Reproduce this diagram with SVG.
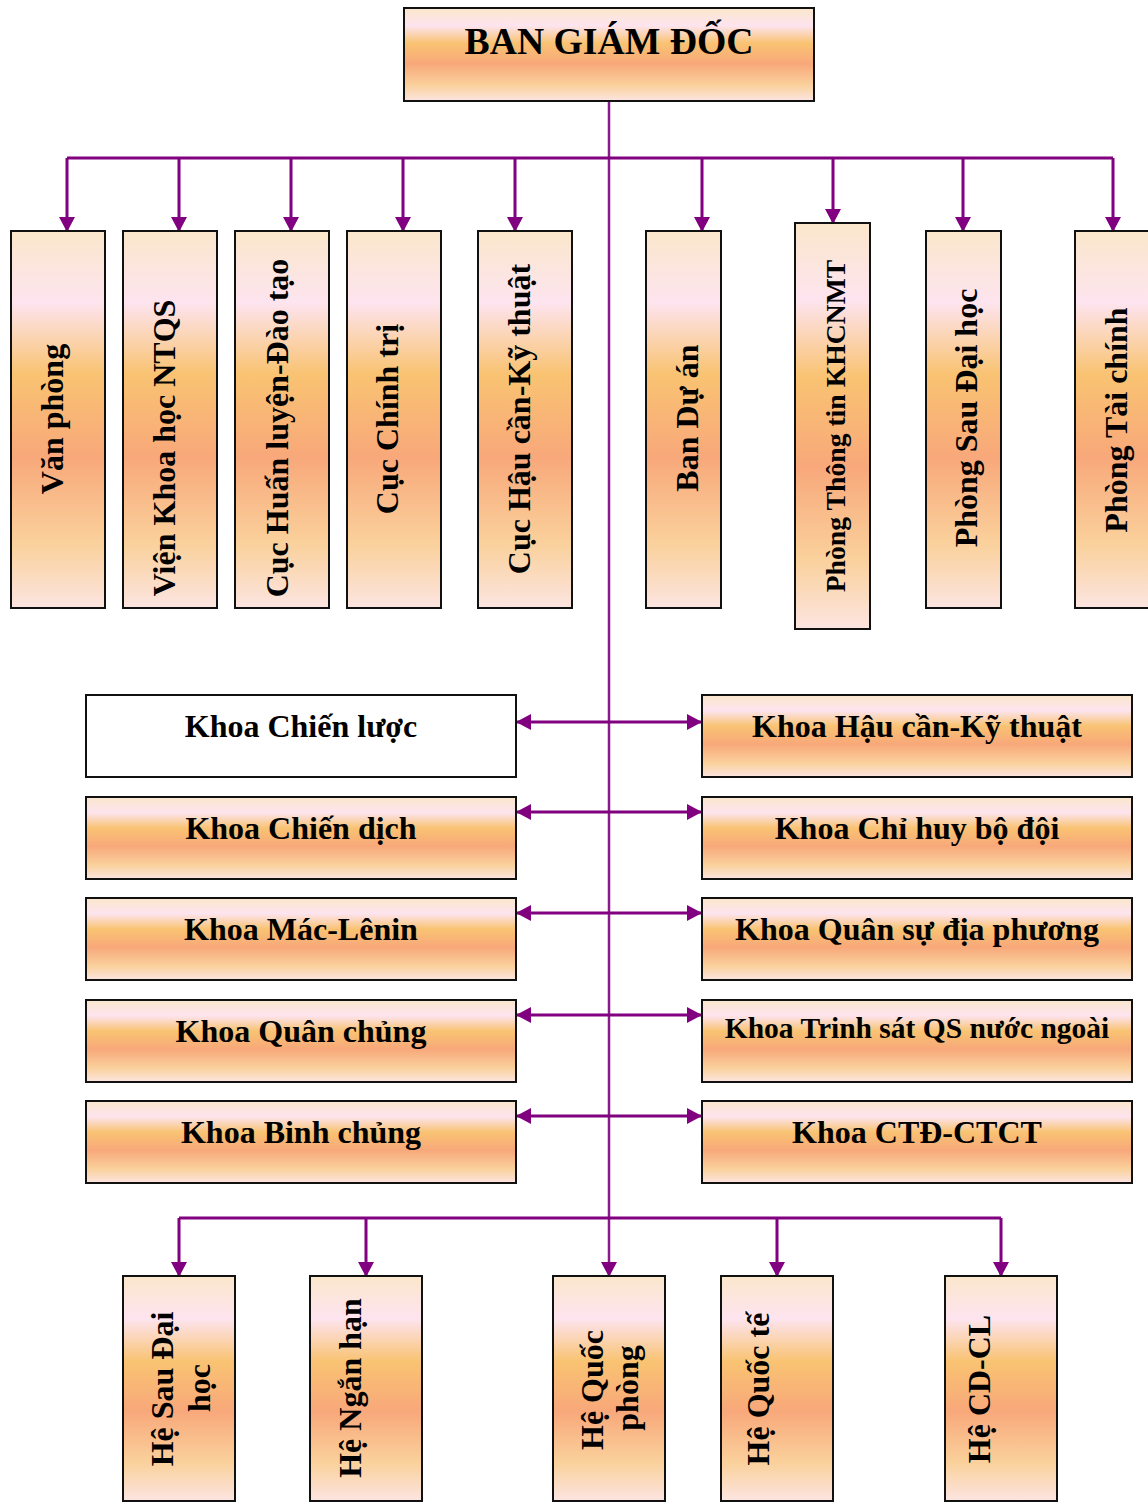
<svg xmlns="http://www.w3.org/2000/svg" width="1148" height="1503" viewBox="0 0 1148 1503">
  <defs>
    <!-- warm sunset fill used by almost every box -->
    <linearGradient id="sunset" x1="0" y1="0" x2="0" y2="1">
      <stop offset="0" stop-color="#FAE7CB"/>
      <stop offset="0.19" stop-color="#FDE4EF"/>
      <stop offset="0.38" stop-color="#F9C372"/>
      <stop offset="0.6" stop-color="#F8A87A"/>
      <stop offset="0.83" stop-color="#FAD19C"/>
      <stop offset="1" stop-color="#FCE5E1"/>
    </linearGradient>
    <marker id="arrow" viewBox="0 0 15 16" refX="14" refY="8" markerWidth="15" markerHeight="16" markerUnits="userSpaceOnUse" orient="auto-start-reverse">
      <path d="M0,0 L15,8 L0,16 z" fill="#800080"/>
    </marker>
    <style>
      .box { fill: url(#sunset); stroke: #111; stroke-width: 2; }
      .plain { fill: #fff; stroke: #111; stroke-width: 2; }
      .lbl { font-family: "Liberation Serif", "Times New Roman", serif; font-weight: bold; fill: #000; text-anchor: middle; }
      .v { font-size: 32px; }
      .h { font-size: 32px; }
      .link { fill: none; stroke: #800080; stroke-width: 3; }
      .trunk { fill: none; stroke: #8a1a8a; stroke-width: 2.5; }
    </style>
  </defs>

  <!-- connectors -->
  <g id="connectors">
    <path class="trunk" d="M609,101 V1276" marker-end="url(#arrow)"/>
    <path class="link" d="M67,158 H1113"/>
    <path class="link" d="M67,158 V231" marker-end="url(#arrow)"/>
    <path class="link" d="M179,158 V231" marker-end="url(#arrow)"/>
    <path class="link" d="M291,158 V231" marker-end="url(#arrow)"/>
    <path class="link" d="M403,158 V231" marker-end="url(#arrow)"/>
    <path class="link" d="M515,158 V231" marker-end="url(#arrow)"/>
    <path class="link" d="M702,158 V231" marker-end="url(#arrow)"/>
    <path class="link" d="M833,158 V223" marker-end="url(#arrow)"/>
    <path class="link" d="M963,158 V231" marker-end="url(#arrow)"/>
    <path class="link" d="M1113,158 V231" marker-end="url(#arrow)"/>

    <path class="link" d="M517,722 H701" marker-start="url(#arrow)" marker-end="url(#arrow)"/>
    <path class="link" d="M517,812 H701" marker-start="url(#arrow)" marker-end="url(#arrow)"/>
    <path class="link" d="M517,913 H701" marker-start="url(#arrow)" marker-end="url(#arrow)"/>
    <path class="link" d="M517,1015 H701" marker-start="url(#arrow)" marker-end="url(#arrow)"/>
    <path class="link" d="M517,1116 H701" marker-start="url(#arrow)" marker-end="url(#arrow)"/>

    <path class="link" d="M179,1218 H1001"/>
    <path class="link" d="M179,1218 V1276" marker-end="url(#arrow)"/>
    <path class="link" d="M366,1218 V1276" marker-end="url(#arrow)"/>
    <path class="link" d="M777,1218 V1276" marker-end="url(#arrow)"/>
    <path class="link" d="M1001,1218 V1276" marker-end="url(#arrow)"/>
  </g>

  <!-- head -->
  <g id="ban-giam-doc">
    <rect class="box" x="404" y="8" width="410" height="93"/>
    <text class="lbl" x="609" y="54" font-size="37.7">BAN GIÁM ĐỐC</text>
  </g>

  <!-- departments -->
  <g id="van-phong">
    <rect class="box" x="11" y="231" width="94" height="377"/>
    <text class="lbl v" transform="translate(63,419) rotate(-90)">Văn phòng</text>
  </g>
  <g id="vien-khoa-hoc">
    <rect class="box" x="123" y="231" width="94" height="377"/>
    <text class="lbl v" transform="translate(175,448) rotate(-90)">Viện Khoa học NTQS</text>
  </g>
  <g id="cuc-huan-luyen">
    <rect class="box" x="235" y="231" width="94" height="377"/>
    <text class="lbl v" transform="translate(288,428) rotate(-90)">Cục Huấn luyện-Đào tạo</text>
  </g>
  <g id="cuc-chinh-tri">
    <rect class="box" x="347" y="231" width="94" height="377"/>
    <text class="lbl v" transform="translate(398,419) rotate(-90)">Cục Chính trị</text>
  </g>
  <g id="cuc-hau-can">
    <rect class="box" x="478" y="231" width="94" height="377"/>
    <text class="lbl v" transform="translate(530,419) rotate(-90)">Cục Hậu cần-Kỹ thuật</text>
  </g>
  <g id="ban-du-an">
    <rect class="box" x="646" y="231" width="75" height="377"/>
    <text class="lbl v" transform="translate(698,418) rotate(-90)">Ban Dự án</text>
  </g>
  <g id="phong-thong-tin">
    <rect class="box" x="795" y="223" width="75" height="406"/>
    <text class="lbl" font-size="27.7" transform="translate(845,426) rotate(-90)">Phòng Thông tin KHCNMT</text>
  </g>
  <g id="phong-sau-dai-hoc">
    <rect class="box" x="926" y="231" width="75" height="377"/>
    <text class="lbl v" transform="translate(977,418) rotate(-90)">Phòng Sau Đại học</text>
  </g>
  <g id="phong-tai-chinh">
    <rect class="box" x="1075" y="231" width="80" height="377"/>
    <text class="lbl v" transform="translate(1127,420) rotate(-90)">Phòng Tài chính</text>
  </g>

  <!-- faculties, left column -->
  <g id="khoa-chien-luoc">
    <rect class="plain" x="86" y="695" width="430" height="82"/>
    <text class="lbl h" x="301" y="737">Khoa Chiến lược</text>
  </g>
  <g id="khoa-chien-dich">
    <rect class="box" x="86" y="797" width="430" height="82"/>
    <text class="lbl h" x="301" y="839">Khoa Chiến dịch</text>
  </g>
  <g id="khoa-mac-lenin">
    <rect class="box" x="86" y="898" width="430" height="82"/>
    <text class="lbl h" x="301" y="940">Khoa Mác-Lênin</text>
  </g>
  <g id="khoa-quan-chung">
    <rect class="box" x="86" y="1000" width="430" height="82"/>
    <text class="lbl h" x="301" y="1042">Khoa Quân chủng</text>
  </g>
  <g id="khoa-binh-chung">
    <rect class="box" x="86" y="1101" width="430" height="82"/>
    <text class="lbl h" x="301" y="1143">Khoa Binh chủng</text>
  </g>

  <!-- faculties, right column -->
  <g id="khoa-hau-can">
    <rect class="box" x="702" y="695" width="430" height="82"/>
    <text class="lbl h" x="917" y="737">Khoa Hậu cần-Kỹ thuật</text>
  </g>
  <g id="khoa-chi-huy">
    <rect class="box" x="702" y="797" width="430" height="82"/>
    <text class="lbl h" x="917" y="839">Khoa Chỉ huy bộ đội</text>
  </g>
  <g id="khoa-qs-dia-phuong">
    <rect class="box" x="702" y="898" width="430" height="82"/>
    <text class="lbl h" x="917" y="940">Khoa Quân sự địa phương</text>
  </g>
  <g id="khoa-trinh-sat">
    <rect class="box" x="702" y="1000" width="430" height="82"/>
    <text class="lbl" font-size="29.5" x="917" y="1038">Khoa Trinh sát QS nước ngoài</text>
  </g>
  <g id="khoa-ctd-ctct">
    <rect class="box" x="702" y="1101" width="430" height="82"/>
    <text class="lbl h" x="917" y="1143">Khoa CTĐ-CTCT</text>
  </g>

  <!-- training systems -->
  <g id="he-sau-dai-hoc">
    <rect class="box" x="123" y="1276" width="112" height="225"/>
    <text class="lbl v" transform="translate(173,1389) rotate(-90)">Hệ Sau Đại</text>
    <text class="lbl v" transform="translate(210,1388) rotate(-90)">học</text>
  </g>
  <g id="he-ngan-han">
    <rect class="box" x="310" y="1276" width="112" height="225"/>
    <text class="lbl v" transform="translate(361,1388) rotate(-90)">Hệ Ngắn hạn</text>
  </g>
  <g id="he-quoc-phong">
    <rect class="box" x="553" y="1276" width="112" height="225"/>
    <text class="lbl v" transform="translate(603,1390) rotate(-90)">Hệ Quốc</text>
    <text class="lbl v" transform="translate(638,1388) rotate(-90)">phòng</text>
  </g>
  <g id="he-quoc-te">
    <rect class="box" x="721" y="1276" width="112" height="225"/>
    <text class="lbl v" transform="translate(769,1389) rotate(-90)">Hệ Quốc tế</text>
  </g>
  <g id="he-cd-cl">
    <rect class="box" x="945" y="1276" width="112" height="225"/>
    <text class="lbl v" transform="translate(990,1389) rotate(-90)">Hệ CD-CL</text>
  </g>
</svg>
